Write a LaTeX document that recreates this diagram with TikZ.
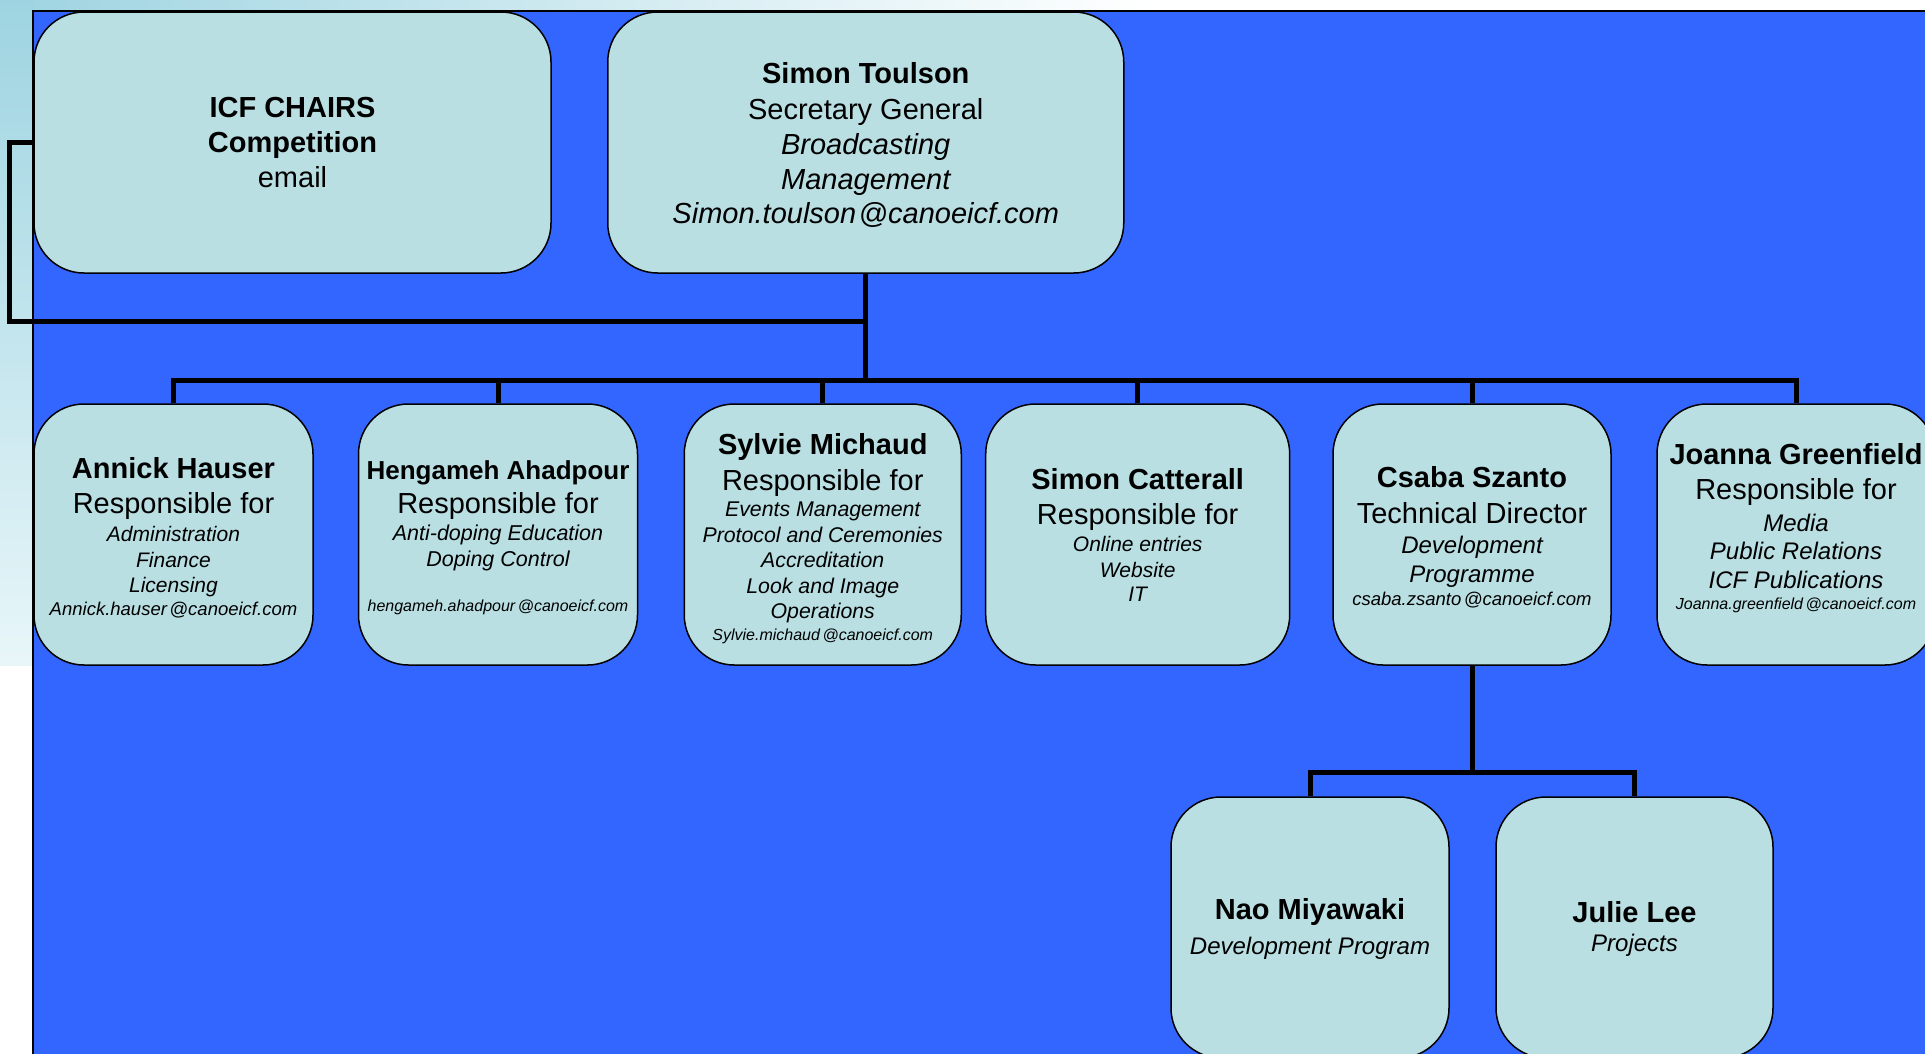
\documentclass[tikz,border=0pt]{standalone}
\usepackage{fontspec}
\setmainfont{Liberation Sans}
\setlength{\parindent}{0pt}
\setlength{\parskip}{0pt}
\definecolor{bgblue}{RGB}{51,102,255}
\definecolor{boxfill}{RGB}{185,223,227}
\definecolor{aquaA}{RGB}{158,212,225}
\definecolor{aquaB}{RGB}{232,246,249}
\newcommand{\ocLine}[4]{{\fontsize{#1}{#2}\selectfont#3\spaceskip=\fontdimen2\font\relax\xspaceskip=\fontdimen2\font\relax#4\par}}
\newcommand{\ocAt}{\kern2.5pt@}
\tikzset{
  orgbox/.style={draw=black, line width=1.5pt, fill=boxfill, rounded corners=50pt,
    minimum height=261pt, inner sep=0pt},
  txt/.style={inner sep=0pt, align=center},
  conn/.style={draw=black, line width=5pt},
}
\begin{document}
\begin{tikzpicture}[x=1pt,y=-1pt]
\useasboundingbox (0,0) rectangle (1925,1053);
\clip (0,0) rectangle (1925,1053);
% background
\fill[white] (0,0) rectangle (1925,1053);
\shade[left color=aquaA, right color=white] (0,0) rectangle (1150,12);
\shade[top color=aquaA, bottom color=aquaB] (0,0) rectangle (34,665);
\fill[bgblue] (33,11) rectangle (1935,1060);
\draw[black, line width=2pt] (1935,11) -- (33,11) -- (33,1060);

% boxes
\node[orgbox, minimum width=517pt] (icf) at (292.5,142.5) {};
\node[orgbox, minimum width=516pt] (st) at (865.75,142.5) {};
\node[orgbox, minimum width=279pt] (annick) at (173.5,534.5) {};
\node[orgbox, minimum width=279pt] (heng) at (498,534.5) {};
\node[orgbox, minimum width=277pt] (sylvie) at (822.75,534.5) {};
\node[orgbox, minimum width=304pt] (simc) at (1137.7,534.5) {};
\node[orgbox, minimum width=278pt] (csaba) at (1472,534.5) {};
\node[orgbox, minimum width=278pt] (joanna) at (1796,534.5) {};
\node[orgbox, minimum width=278pt] (nao) at (1310,927.5) {};
\node[orgbox, minimum width=277pt] (julie) at (1634.5,927.5) {};

% texts
\node[txt, text width=505pt] (icfT) at (icf.center)
  {\ocLine{29}{35}{\bfseries}{ICF CHAIRS}\ocLine{29}{35}{\bfseries}{Competition}\ocLine{29}{35}{}{email}};
\node[txt, text width=505pt] (stT) at ([yshift=-2.2pt]st.center)
  {\ocLine{29}{35}{\bfseries}{Simon Toulson}\ocLine{29}{36}{}{Secretary General}%
   \ocLine{29}{35.7}{\itshape}{Broadcasting}\ocLine{29}{34.3}{\itshape}{Management}%
   \ocLine{29}{34.4}{\itshape}{Simon.toulson\ocAt canoeicf.com}};
\node[txt, text width=272pt] (annickT) at ([yshift=-3.5pt]annick.center)
  {\ocLine{29}{35}{\bfseries}{Annick Hauser}\ocLine{29}{35}{}{Responsible for}%
   \ocLine{21}{27.7}{\itshape}{Administration}\ocLine{21}{25.7}{\itshape}{Finance}%
   \ocLine{21}{25}{\itshape}{Licensing}\ocLine{18.5}{23.3}{\itshape}{Annick.hauser\ocAt canoeicf.com}};
\node[txt, text width=272pt] (hengT) at ([yshift=-3pt]heng.center)
  {\ocLine{26}{35}{\bfseries}{Hengameh Ahadpour}\ocLine{29}{34}{}{Responsible for}%
   \ocLine{21.5}{27.7}{\itshape}{Anti-doping Education}\ocLine{21.5}{25.7}{\itshape}{Doping Control}%
   \ocLine{16}{45}{\itshape}{hengameh.ahadpour\ocAt canoeicf.com}};
\node[txt, text width=270pt] (sylvieT) at ([yshift=-3.7pt]sylvie.center)
  {\ocLine{29}{35}{\bfseries}{Sylvie Michaud}\ocLine{29}{36}{}{Responsible for}%
   \ocLine{21.3}{26.7}{\itshape}{Events Management}\ocLine{21.3}{26}{\itshape}{Protocol and Ceremonies}%
   \ocLine{21.3}{25}{\itshape}{Accreditation}\ocLine{21.3}{25.6}{\itshape}{Look and Image}%
   \ocLine{21.3}{25}{\itshape}{Operations}\ocLine{16}{21.7}{\itshape}{Sylvie.michaud\ocAt canoeicf.com}};
\node[txt, text width=296pt] (simcT) at ([yshift=-0.8pt]simc.center)
  {\ocLine{29}{35}{\bfseries}{Simon Catterall}\ocLine{29}{35}{}{Responsible for}%
   \ocLine{21}{26.7}{\itshape}{Online entries}\ocLine{21}{25.6}{\itshape}{Website}%
   \ocLine{21}{24.4}{\itshape}{IT}};
\node[txt, text width=272pt] (csabaT) at ([yshift=-2.9pt]csaba.center)
  {\ocLine{29}{35}{\bfseries}{Csaba Szanto}\ocLine{29}{36}{}{Technical Director}%
   \ocLine{24}{30}{\itshape}{Development}\ocLine{24}{28.4}{\itshape}{Programme}%
   \ocLine{18.5}{23.3}{\itshape}{csaba.zsanto\ocAt canoeicf.com}};
\node[txt, text width=272pt] (joannaT) at ([yshift=6.5pt]joanna.center)
  {\ocLine{29}{35}{\bfseries}{Joanna Greenfield}\ocLine{29}{35.6}{}{Responsible for}%
   \ocLine{24}{31.7}{\itshape}{Media}\ocLine{24}{28.3}{\itshape}{Public Relations}%
   \ocLine{24}{28.4}{\itshape}{ICF Publications}\ocLine{16}{21.6}{\itshape}{Joanna.greenfield\ocAt canoeicf.com}};
\node[txt, text width=272pt] (naoT) at ([yshift=-1pt]nao.center)
  {\ocLine{29}{35}{\bfseries}{Nao Miyawaki}\ocLine{24}{35}{\itshape}{Development Program}};
\node[txt, text width=270pt] (julieT) at ([yshift=-1.6pt]julie.center)
  {\ocLine{29}{35}{\bfseries}{Julie Lee}\ocLine{24}{29}{\itshape}{Projects}};

% connectors
\coordinate (jn) at (865.75,321);
\coordinate (hub) at (865.75,380.5);
\coordinate (sub) at (1472,772);
\draw[conn] (st.south) -- (hub);
\draw[conn] (icf.west) -- ++(-23.5,0) |- (jn);
\draw[conn] (annick.north) |- (hub) -| (joanna.north);
\draw[conn] (heng.north) -- (heng.north |- hub);
\draw[conn] (sylvie.north) -- (sylvie.north |- hub);
\draw[conn] (simc.north) -- (simc.north |- hub);
\draw[conn] (csaba.north) -- (csaba.north |- hub);
\draw[conn] (csaba.south) -- (sub);
\draw[conn] (nao.north) |- (sub) -| (julie.north);
\end{tikzpicture}
\end{document}
